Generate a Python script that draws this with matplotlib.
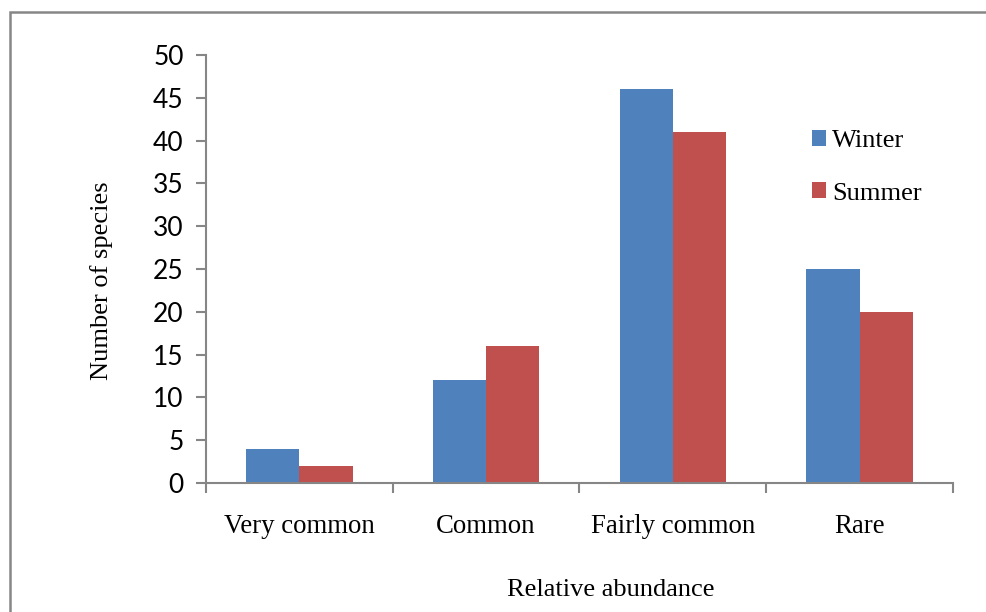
import matplotlib
matplotlib.use("Agg")
import matplotlib.pyplot as plt
import numpy as np
from matplotlib.patches import Rectangle

categories = ["Very common", "Common", "Fairly common", "Rare"]
winter = [4, 12, 46, 25]
summer = [2, 16, 41, 20]
yticks = [0, 5, 10, 15, 20, 25, 30, 35, 40, 45, 50]

blue = "#4F81BD"
red = "#C0504D"
grey = "#868686"
serif = "Liberation Serif"

fig = plt.figure(figsize=(9.87, 6.12), dpi=100)
ax = fig.add_axes([206 / 987, 1 - 483 / 612, (953 - 206) / 987, (483 - 55) / 612])

# frame round the whole chart area (open at right and bottom)
fig.patches.append(Rectangle((10 / 987, -0.1), 1.2, 1 - 12 / 612 + 0.1,
                             transform=fig.transFigure, fill=False,
                             edgecolor=grey, linewidth=1.8))

x = np.arange(len(categories))
w = 0.285
ax.bar(x - w / 2, winter, w, color=blue, label="Winter")
ax.bar(x + w / 2, summer, w, color=red, label="Summer")

ax.set_xlim(-0.5, len(categories) - 0.5)
ax.set_ylim(0, 50)
ax.set_yticks(yticks)
ax.set_yticklabels([str(t) for t in yticks], fontfamily="Lato", fontsize=19)

# categories between tick marks at the group boundaries
ax.set_xticks(np.arange(len(categories) + 1) - 0.5)
ax.set_xticklabels([])
ax.set_xticks(x, minor=True)
ax.set_xticklabels(categories, minor=True, fontfamily=serif, fontsize=19.3)
ax.tick_params(axis="x", which="minor", length=0, pad=22)
ax.tick_params(axis="x", which="major", length=7, width=1.5, color=grey)
ax.tick_params(axis="y", length=7, width=1.5, color=grey, pad=9)

for s in ["top", "right"]:
    ax.spines[s].set_visible(False)
for s in ["left", "bottom"]:
    ax.spines[s].set_color(grey)
    ax.spines[s].set_linewidth(1.5)

fig.text(102 / 987, 1 - 281 / 612, "Number of species", rotation=90,
         ha="center", va="center", fontfamily=serif, fontsize=19)
fig.text(611 / 987, 1 - 590 / 612, "Relative abundance",
         ha="center", va="center", fontfamily=serif, fontsize=19)

ax.legend(loc="upper left", bbox_to_anchor=(788 / 987, 1 - 106 / 612),
          bbox_transform=fig.transFigure, frameon=False,
          prop={"family": serif, "size": 19}, handlelength=0.55,
          handleheight=0.55, handletextpad=0.22, labelspacing=1.15)

fig.savefig("out.png", dpi=100)
